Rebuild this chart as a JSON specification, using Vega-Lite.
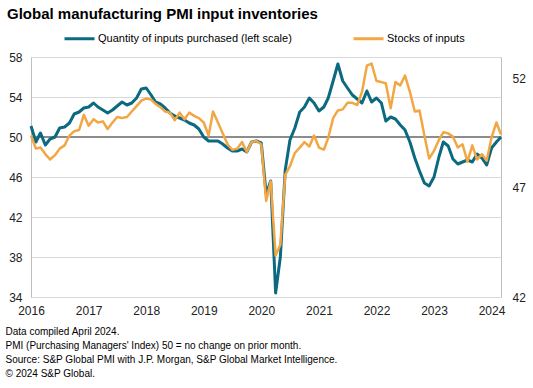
{
  "$schema": "https://vega.github.io/schema/vega-lite/v6.json",
  "width": 470,
  "height": 240,
  "autosize": {"type": "none"},
  "padding": {"left": 31, "top": 57, "right": 32, "bottom": 91},
  "background": "white",
  "config": {
    "font": "Liberation Sans",
    "view": {"stroke": null},
    "axis": {"labelFontSize": 12, "labelColor": "#222222", "ticks": false, "labelFlush": false, "labelOverlap": false, "domainColor": "#bfbfbf", "gridColor": "#d9d9d9"}
  },
  "title": {"text": "Global manufacturing PMI input inventories", "anchor": "start", "frame": "group", "fontSize": 15, "fontWeight": "bold", "color": "#000000", "dx": -24, "offset": 0},
  "data": {"values": [
    {"date": "2016-01-01", "qty": 51.1, "stocks": 49.4},
    {"date": "2016-02-01", "qty": 49.5, "stocks": 48.8},
    {"date": "2016-03-01", "qty": 50.4, "stocks": 48.85},
    {"date": "2016-04-01", "qty": 49.2, "stocks": 48.55},
    {"date": "2016-05-01", "qty": 49.8, "stocks": 48.3},
    {"date": "2016-06-01", "qty": 50.0, "stocks": 48.5},
    {"date": "2016-07-01", "qty": 50.9, "stocks": 48.8},
    {"date": "2016-08-01", "qty": 51.0, "stocks": 48.95},
    {"date": "2016-09-01", "qty": 51.4, "stocks": 49.4},
    {"date": "2016-10-01", "qty": 52.3, "stocks": 49.6},
    {"date": "2016-11-01", "qty": 52.5, "stocks": 49.65},
    {"date": "2016-12-01", "qty": 52.9, "stocks": 50.35},
    {"date": "2017-01-01", "qty": 53.0, "stocks": 49.85},
    {"date": "2017-02-01", "qty": 53.4, "stocks": 50.15},
    {"date": "2017-03-01", "qty": 53.0, "stocks": 50.0},
    {"date": "2017-04-01", "qty": 52.7, "stocks": 50.05},
    {"date": "2017-05-01", "qty": 52.4, "stocks": 49.7},
    {"date": "2017-06-01", "qty": 52.7, "stocks": 50.0},
    {"date": "2017-07-01", "qty": 53.1, "stocks": 50.25},
    {"date": "2017-08-01", "qty": 53.5, "stocks": 50.2},
    {"date": "2017-09-01", "qty": 53.2, "stocks": 50.25},
    {"date": "2017-10-01", "qty": 53.4, "stocks": 50.5},
    {"date": "2017-11-01", "qty": 53.9, "stocks": 50.75},
    {"date": "2017-12-01", "qty": 54.8, "stocks": 51.0},
    {"date": "2018-01-01", "qty": 54.9, "stocks": 51.1},
    {"date": "2018-02-01", "qty": 54.2, "stocks": 51.05},
    {"date": "2018-03-01", "qty": 53.5, "stocks": 50.85},
    {"date": "2018-04-01", "qty": 53.3, "stocks": 50.7},
    {"date": "2018-05-01", "qty": 52.9, "stocks": 50.5},
    {"date": "2018-06-01", "qty": 52.4, "stocks": 50.45},
    {"date": "2018-07-01", "qty": 52.1, "stocks": 50.1},
    {"date": "2018-08-01", "qty": 51.9, "stocks": 50.45},
    {"date": "2018-09-01", "qty": 51.7, "stocks": 50.15},
    {"date": "2018-10-01", "qty": 51.4, "stocks": 50.45},
    {"date": "2018-11-01", "qty": 51.2, "stocks": 50.3},
    {"date": "2018-12-01", "qty": 50.8, "stocks": 50.2},
    {"date": "2019-01-01", "qty": 50.0, "stocks": 50.0},
    {"date": "2019-02-01", "qty": 49.6, "stocks": 49.4},
    {"date": "2019-03-01", "qty": 49.6, "stocks": 50.5},
    {"date": "2019-04-01", "qty": 49.6, "stocks": 50.0},
    {"date": "2019-05-01", "qty": 49.3, "stocks": 49.5},
    {"date": "2019-06-01", "qty": 48.9, "stocks": 49.0},
    {"date": "2019-07-01", "qty": 48.6, "stocks": 48.75},
    {"date": "2019-08-01", "qty": 48.6, "stocks": 48.8},
    {"date": "2019-09-01", "qty": 48.8, "stocks": 49.1},
    {"date": "2019-10-01", "qty": 48.5, "stocks": 48.65},
    {"date": "2019-11-01", "qty": 49.5, "stocks": 49.1},
    {"date": "2019-12-01", "qty": 49.6, "stocks": 49.15},
    {"date": "2020-01-01", "qty": 49.4, "stocks": 49.0},
    {"date": "2020-02-01", "qty": 44.3, "stocks": 46.4},
    {"date": "2020-03-01", "qty": 45.6, "stocks": 47.3},
    {"date": "2020-04-01", "qty": 34.4, "stocks": 43.9},
    {"date": "2020-05-01", "qty": 38.0, "stocks": 44.4},
    {"date": "2020-06-01", "qty": 46.7, "stocks": 47.6},
    {"date": "2020-07-01", "qty": 49.7, "stocks": 48.0},
    {"date": "2020-08-01", "qty": 50.9, "stocks": 48.6},
    {"date": "2020-09-01", "qty": 52.5, "stocks": 48.85},
    {"date": "2020-10-01", "qty": 53.0, "stocks": 49.1},
    {"date": "2020-11-01", "qty": 53.9, "stocks": 48.9},
    {"date": "2020-12-01", "qty": 53.4, "stocks": 49.4},
    {"date": "2021-01-01", "qty": 52.6, "stocks": 48.85},
    {"date": "2021-02-01", "qty": 53.0, "stocks": 48.75},
    {"date": "2021-03-01", "qty": 53.9, "stocks": 49.3},
    {"date": "2021-04-01", "qty": 55.6, "stocks": 50.2},
    {"date": "2021-05-01", "qty": 57.3, "stocks": 50.55},
    {"date": "2021-06-01", "qty": 55.6, "stocks": 50.6},
    {"date": "2021-07-01", "qty": 54.9, "stocks": 50.9},
    {"date": "2021-08-01", "qty": 54.2, "stocks": 50.9},
    {"date": "2021-09-01", "qty": 53.8, "stocks": 50.8},
    {"date": "2021-10-01", "qty": 53.4, "stocks": 51.4},
    {"date": "2021-11-01", "qty": 54.6, "stocks": 52.6},
    {"date": "2021-12-01", "qty": 53.5, "stocks": 52.7},
    {"date": "2022-01-01", "qty": 53.9, "stocks": 51.9},
    {"date": "2022-02-01", "qty": 53.4, "stocks": 51.85},
    {"date": "2022-03-01", "qty": 51.6, "stocks": 51.8},
    {"date": "2022-04-01", "qty": 52.0, "stocks": 50.65},
    {"date": "2022-05-01", "qty": 51.8, "stocks": 51.85},
    {"date": "2022-06-01", "qty": 51.2, "stocks": 51.7},
    {"date": "2022-07-01", "qty": 50.7, "stocks": 52.15},
    {"date": "2022-08-01", "qty": 49.5, "stocks": 51.4},
    {"date": "2022-09-01", "qty": 47.9, "stocks": 50.5},
    {"date": "2022-10-01", "qty": 46.6, "stocks": 50.55},
    {"date": "2022-11-01", "qty": 45.4, "stocks": 49.4},
    {"date": "2022-12-01", "qty": 45.1, "stocks": 48.35},
    {"date": "2023-01-01", "qty": 46.0, "stocks": 48.7},
    {"date": "2023-02-01", "qty": 48.0, "stocks": 49.2},
    {"date": "2023-03-01", "qty": 49.5, "stocks": 49.55},
    {"date": "2023-04-01", "qty": 49.1, "stocks": 49.5},
    {"date": "2023-05-01", "qty": 47.8, "stocks": 49.35},
    {"date": "2023-06-01", "qty": 47.3, "stocks": 48.85},
    {"date": "2023-07-01", "qty": 47.5, "stocks": 49.0},
    {"date": "2023-08-01", "qty": 47.7, "stocks": 48.2},
    {"date": "2023-09-01", "qty": 47.5, "stocks": 48.95},
    {"date": "2023-10-01", "qty": 48.3, "stocks": 48.3},
    {"date": "2023-11-01", "qty": 47.9, "stocks": 48.55},
    {"date": "2023-12-01", "qty": 47.2, "stocks": 48.25},
    {"date": "2024-01-01", "qty": 48.9, "stocks": 49.3},
    {"date": "2024-02-01", "qty": 49.5, "stocks": 50.0},
    {"date": "2024-03-01", "qty": 50.0, "stocks": 49.45}
  ]},
  "layer": [
    {
      "layer": [
        {
          "mark": {"type": "rule", "color": "#8c8c8c", "strokeWidth": 1.5},
          "encoding": {"y": {"datum": 50, "type": "quantitative", "scale": {"domain": [34, 58], "zero": false},
            "axis": {"orient": "left", "values": [34, 38, 42, 46, 50, 54, 58], "grid": true, "labelPadding": 9, "title": null}}}
        },
        {
          "mark": {"type": "line", "strokeWidth": 3, "strokeJoin": "round"},
          "encoding": {
            "x": {"field": "date", "type": "temporal",
              "scale": {"type": "utc", "domain": [{"year": 2016, "month": 1, "date": 1, "utc": true}, {"year": 2024, "month": 3, "date": 1, "utc": true}]},
              "axis": {"values": [{"year": 2016, "month": 1, "date": 1, "utc": true}, {"year": 2017, "month": 1, "date": 1, "utc": true}, {"year": 2018, "month": 1, "date": 1, "utc": true}, {"year": 2019, "month": 1, "date": 1, "utc": true}, {"year": 2020, "month": 1, "date": 1, "utc": true}, {"year": 2021, "month": 1, "date": 1, "utc": true}, {"year": 2022, "month": 1, "date": 1, "utc": true}, {"year": 2023, "month": 1, "date": 1, "utc": true}, {"year": 2024, "month": 1, "date": 1, "utc": true}],
                "format": "%Y", "grid": false, "labelPadding": 8, "domainColor": "#d9d9d9",
                "title": ["Data compiled April 2024.", "PMI (Purchasing Managers' Index) 50 = no change on prior month.", "Source: S&P Global PMI with J.P. Morgan, S&P Global Market Intelligence.", "© 2024 S&P Global."],
                "titleFontSize": 10, "titleFontWeight": "normal", "titleColor": "#000000", "titleAlign": "left", "titleAnchor": "start", "titleBaseline": "alphabetic", "titleX": -26, "titleY": 37, "titleLineHeight": 14}},
            "y": {"field": "qty", "type": "quantitative", "scale": {"domain": [34, 58], "zero": false},
              "axis": {"orient": "left", "values": [34, 38, 42, 46, 50, 54, 58], "grid": true, "labelPadding": 9, "title": null}},
            "color": {"datum": "Quantity of inputs purchased (left scale)", "type": "nominal",
              "scale": {"domain": ["Quantity of inputs purchased (left scale)", "Stocks of inputs"], "range": ["#0b6a80", "#f2a744"]},
              "legend": {"orient": "none", "legendX": 32, "legendY": -35, "direction": "horizontal", "title": null, "symbolType": "stroke", "symbolSize": 900, "symbolStrokeWidth": 3, "labelFontSize": 11, "labelColor": "#000000", "labelOffset": 2, "columnPadding": 55, "labelLimit": 400}}
          }
        }
      ]
    },
    {
      "mark": {"type": "line", "strokeWidth": 2.5, "strokeJoin": "round"},
      "encoding": {
        "x": {"field": "date", "type": "temporal",
          "scale": {"type": "utc", "domain": [{"year": 2016, "month": 1, "date": 1, "utc": true}, {"year": 2024, "month": 3, "date": 1, "utc": true}]}},
        "y": {"field": "stocks", "type": "quantitative", "scale": {"domain": [42, 53], "zero": false},
          "axis": {"orient": "right", "values": [42, 47, 52], "grid": false, "labelPadding": 11, "title": null}},
        "color": {"datum": "Stocks of inputs", "type": "nominal"}
      }
    }
  ],
  "resolve": {"scale": {"y": "independent"}}
}
